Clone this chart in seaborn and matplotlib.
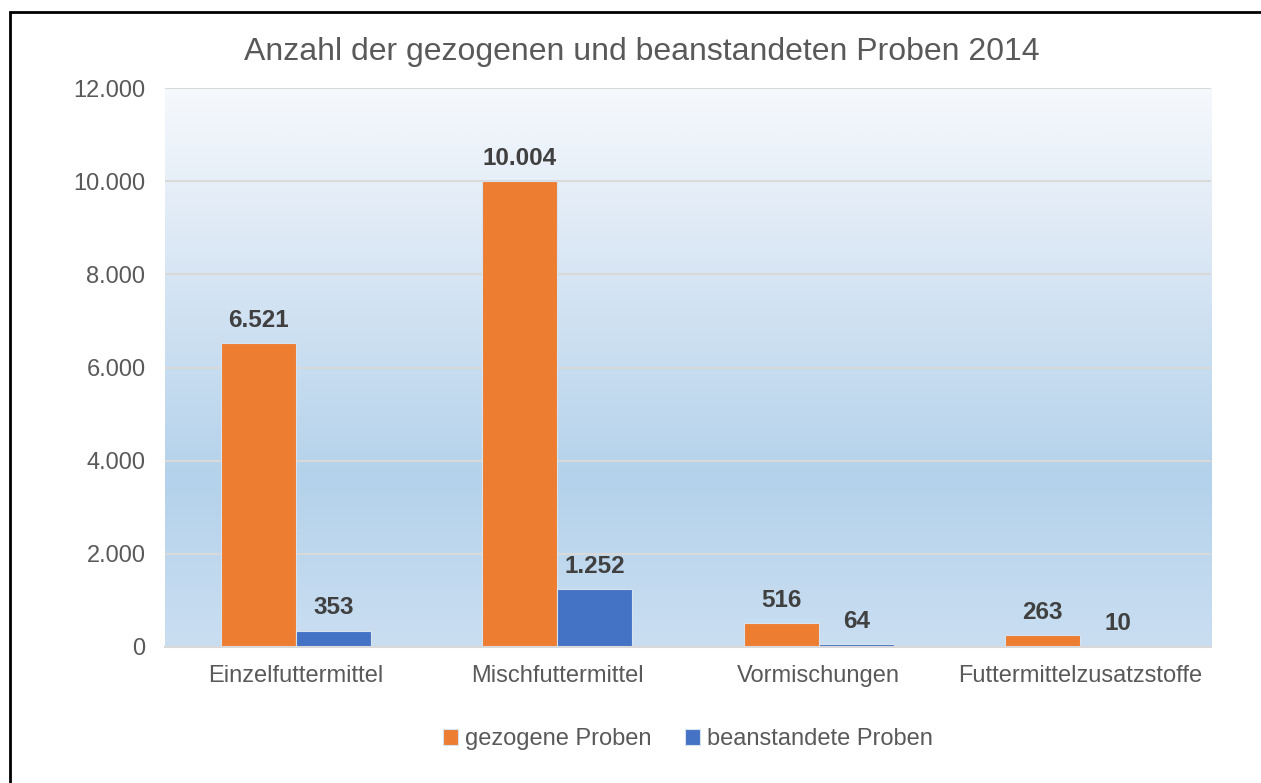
import numpy as np
import pandas as pd
import matplotlib
matplotlib.use("Agg")
import matplotlib.pyplot as plt
from matplotlib.colors import LinearSegmentedColormap
from matplotlib.patches import Rectangle
import seaborn as sns

#chart data
kategorien = ["Einzelfuttermittel", "Mischfuttermittel", "Vormischungen", "Futtermittelzusatzstoffe"]
gezogen = [6521, 10004, 516, 263]
beanstandet = [353, 1252, 64, 10]
serien = ["gezogene Proben", "beanstandete Proben"]
y_ticks = [0, 2000, 4000, 6000, 8000, 10000, 12000]
titel = "Anzahl der gezogenen und beanstandeten Proben 2014"

#long table for seaborn
df = pd.DataFrame({
    "Kategorie": kategorien * 2,
    "Anzahl": gezogen + beanstandet,
    "Serie": [serien[0]] * len(kategorien) + [serien[1]] * len(kategorien),
})

def de_format(v):
    #german thousands separator
    return f"{v:,.0f}".replace(",", ".")

sns.set_style("white")
plt.rcParams["font.family"] = ["Liberation Sans", "DejaVu Sans"]

text_grey = "#595959"
fig = plt.figure(figsize=(12.61, 7.83), dpi=100)
ax = fig.add_axes([0.1308, 0.1737, 0.8296, 0.7139])

sns.barplot(data=df, x="Kategorie", y="Anzahl", hue="Serie", order=kategorien,
            hue_order=serien, palette=["#ED7D31", "#4472C4"], width=0.574,
            saturation=1, ax=ax, legend=True, edgecolor="#D6E2EE", linewidth=0.8)

#gradient background of the plot area
grad_cmap = LinearSegmentedColormap.from_list(
    "bg", [(0.0, "#CADEF1"), (0.30, "#B4D2EB"), (0.75, "#DFEAF6"), (1.0, "#F6F9FD")])
grad = np.linspace(0, 1, 256).reshape(-1, 1)
ax.imshow(grad, extent=[-0.5, 3.5, 0, 12000], origin="lower", aspect="auto",
          cmap=grad_cmap, zorder=-2, interpolation="bicubic")

ax.set_xlim(-0.5, 3.5)
ax.set_ylim(0, 12000)
ax.set_yticks(y_ticks)
ax.set_yticklabels([de_format(t) for t in y_ticks])
ax.yaxis.grid(True, color="#D9D9D9", linewidth=1.5)
ax.set_axisbelow(True)
for s in ["top", "right", "left"]:
    ax.spines[s].set_visible(False)
ax.spines["bottom"].set_color("#D9D9D9")
ax.spines["bottom"].set_linewidth(1.5)
ax.tick_params(axis="both", length=0, labelsize=17, labelcolor=text_grey)
ax.tick_params(axis="x", pad=13)
ax.tick_params(axis="y", pad=14)
ax.set_xlabel("")
ax.set_ylabel("")

#value labels on the bars
for cont, vals in zip(ax.containers, [gezogen, beanstandet]):
    ax.bar_label(cont, labels=[de_format(v) for v in vals], padding=8,
                 fontsize=17.5, fontweight="bold", color="#404040")

#legend below the plot
leg = ax.legend(loc="center", bbox_to_anchor=(0.5, -0.165), ncol=2, frameon=False,
                fontsize=17, handlelength=0.65, handleheight=0.65, handletextpad=0.3,
                columnspacing=1.4, labelcolor=text_grey)

fig.text(0.509, 0.934, titel, ha="center", va="center", fontsize=23, color=text_grey)

#black frame around the chart
fig.patches.append(Rectangle((0.0079, -0.2), 1.3, 1.1847, transform=fig.transFigure,
                             fill=False, edgecolor="black", linewidth=2))

fig.savefig("out.png", dpi=100)
